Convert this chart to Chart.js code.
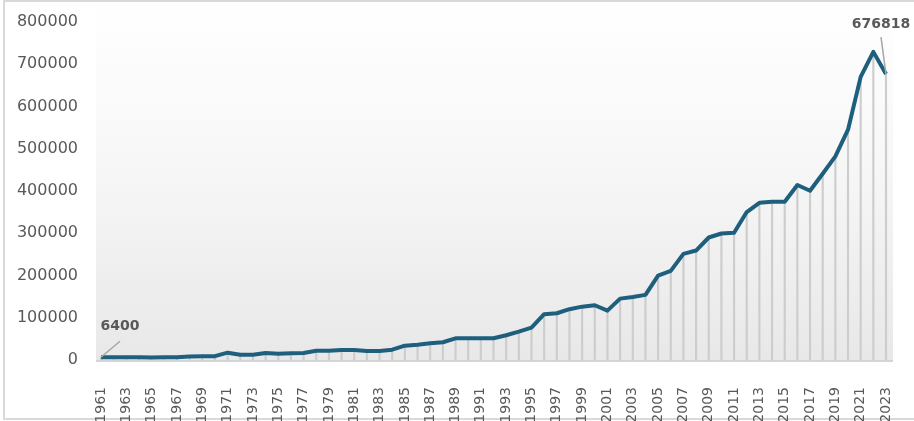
<!DOCTYPE html>
<html>
<head>
<meta charset="utf-8">
<script src="https://cdn.jsdelivr.net/npm/chart.js@4"></script>
<style>
  html, body { margin: 0; padding: 0; background: #fff; }
  #wrap { width: 914px; height: 421px; }
</style>
</head>
<body>
<div id="wrap"><canvas id="chart" width="914" height="421"></canvas></div>
<script>
(function () {
  'use strict';

  var years = [];
  for (var y = 1961; y <= 2023; y++) {
    years.push(String(y));
  }

  var values = [
    6400, 6400, 6300, 6300, 6200, 6300, 6500, 8000, 9000, 9000,
    17300, 12600, 12600, 16500, 15000, 16000, 16500, 22000, 22000, 23700,
    23700, 21500, 21300, 24400, 33900, 36300, 39600, 42000, 51400, 51400,
    51400, 51400, 58500, 67000, 76600, 108300, 110700, 120200, 126300, 129600,
    116900, 145300, 149300, 154100, 199800, 211000, 251200, 259100, 289900, 299400,
    301000, 350100, 372100, 374500, 374500, 414100, 400600, 440900, 481900, 545100,
    670100, 729300, 676818
  ];

  var yTicks = [0, 100000, 200000, 300000, 400000, 500000, 600000, 700000, 800000];

  var labelFirst = '6400';
  var labelLast = '676818';

  var textGray = '#595959';
  var lineColor = '#1d5f7d';

  Chart.defaults.font.family = 'DejaVu Sans';
  Chart.defaults.color = textGray;

  var backdrop = {
    id: 'backdrop',
    beforeDraw: function (chart) {
      var ctx = chart.ctx;
      var area = chart.chartArea;
      var base = chart.scales.y.getPixelForValue(0);
      ctx.save();
      // outer frame
      ctx.strokeStyle = '#d9d9d9';
      ctx.lineWidth = 2;
      ctx.strokeRect(4, 1, 930, 418);
      // plot gradient
      var g = ctx.createLinearGradient(0, area.top - 20, 0, base);
      g.addColorStop(0, '#ffffff');
      g.addColorStop(0.45, '#f7f7f7');
      g.addColorStop(1, '#e8e8e8');
      ctx.fillStyle = g;
      ctx.fillRect(area.left - 5, area.top - 20, area.right - area.left + 12, base - area.top + 20);
      // baseline
      ctx.strokeStyle = '#d4d4d4';
      ctx.lineWidth = 2;
      ctx.beginPath();
      ctx.moveTo(area.left - 5, base + 1);
      ctx.lineTo(area.right + 7, base + 1);
      ctx.stroke();
      ctx.restore();
    }
  };

  var callouts = {
    id: 'callouts',
    afterDatasetsDraw: function (chart) {
      var ctx = chart.ctx;
      var meta = chart.getDatasetMeta(0);
      var p0 = meta.data[0];
      var pN = meta.data[meta.data.length - 1];
      ctx.save();
      ctx.strokeStyle = '#a6a6a6';
      ctx.lineWidth = 1.5;
      ctx.beginPath();
      ctx.moveTo(p0.x, p0.y);
      ctx.lineTo(p0.x + 19, p0.y - 16);
      ctx.moveTo(pN.x, pN.y);
      ctx.lineTo(pN.x - 5, pN.y - 37);
      ctx.stroke();
      ctx.fillStyle = textGray;
      ctx.font = 'bold 14px "DejaVu Sans"';
      ctx.textAlign = 'center';
      ctx.textBaseline = 'middle';
      ctx.fillText(labelFirst, p0.x + 19, p0.y - 31);
      ctx.fillText(labelLast, pN.x - 5, pN.y - 50);
      ctx.restore();
    }
  };

  new Chart(document.getElementById('chart'), {
    data: {
      labels: years,
      datasets: [
        {
          type: 'line',
          data: values,
          borderColor: lineColor,
          borderWidth: 4,
          borderJoinStyle: 'round',
          pointRadius: 0,
          tension: 0,
          clip: false,
          order: 0
        },
        {
          type: 'bar',
          data: values,
          backgroundColor: '#cdcdcd',
          barThickness: 1.5,
          clip: false,
          order: 1
        }
      ]
    },
    options: {
      responsive: false,
      animation: false,
      devicePixelRatio: 1,
      layout: { padding: { top: 22, right: 28, bottom: 0, left: 0 } },
      plugins: {
        legend: { display: false },
        tooltip: { enabled: false }
      },
      scales: {
        x: {
          type: 'category',
          offset: false,
          grid: { display: false, drawTicks: false },
          border: { display: false },
          ticks: {
            autoSkip: false,
            minRotation: 90,
            maxRotation: 90,
            padding: 27,
            color: textGray,
            font: { size: 14 },
            callback: function (value, index) {
              return index % 2 === 0 ? this.getLabelForValue(value) : '';
            }
          },
          afterFit: function (scale) {
            scale.height = 61;
            scale.paddingLeft = 0;
            scale.paddingRight = 0;
          }
        },
        y: {
          min: 0,
          max: 800000,
          grid: { display: false, drawTicks: false },
          border: { display: false },
          afterBuildTicks: function (scale) {
            scale.ticks = yTicks.map(function (v) { return { value: v }; });
          },
          ticks: {
            padding: 23,
            color: textGray,
            font: { size: 16 },
            callback: function (value) { return String(value); }
          },
          afterFit: function (scale) {
            scale.width = 101;
            scale.paddingTop = 0;
            scale.paddingBottom = 0;
          }
        }
      }
    },
    plugins: [backdrop, callouts]
  });
})();
</script>
</body>
</html>
